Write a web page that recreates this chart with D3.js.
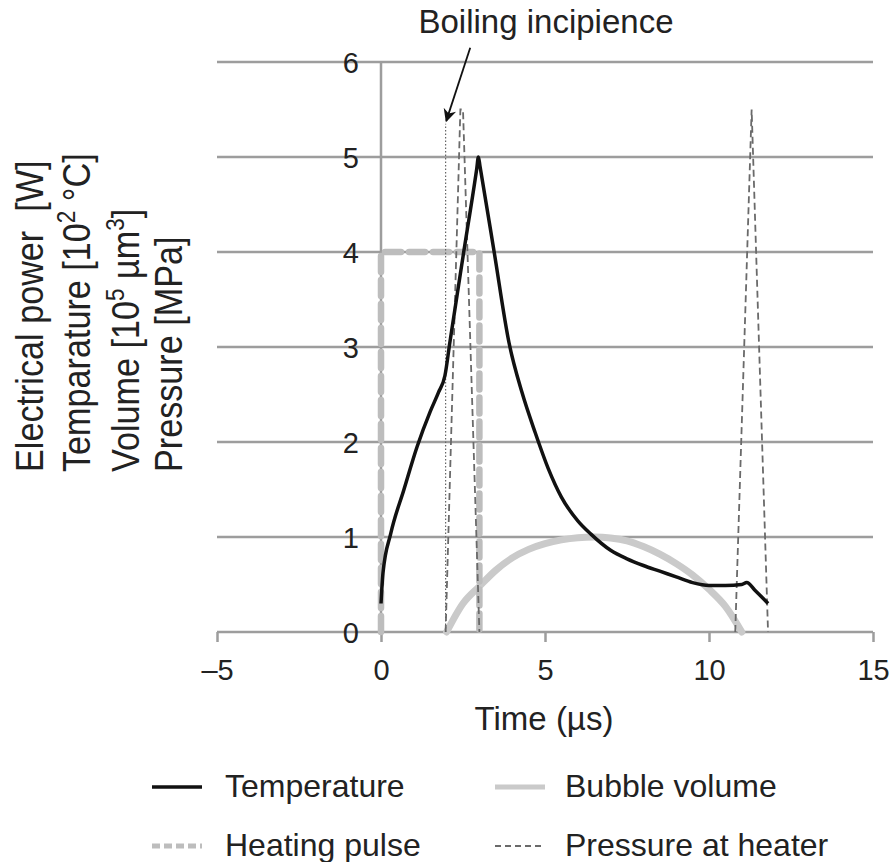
<!DOCTYPE html>
<html>
<head>
<meta charset="utf-8">
<script src="https://cdn.jsdelivr.net/npm/d3@7"></script>
<style>
  html, body { margin: 0; padding: 0; background: #fff; }
  svg { display: block; }
  text { font-family: "Liberation Sans", Arial, Helvetica, sans-serif; fill: #222; white-space: pre; }
</style>
</head>
<body>
<div id="chart"></div>
<script>
// ---------------- DATA ----------------
const xTicks = [-5, 0, 5, 10, 15];
const xTickLabels = ["\u20135", "0", "5", "10", "15"];
const yTicks = [0, 1, 2, 3, 4, 5, 6];
const yTickLabels = ["0", "1", "2", "3", "4", "5", "6"];

// Temperature [10^2 °C] vs time (µs)
const temperatureX = [0.0, 0.06, 0.3, 0.7, 1.1, 1.5, 1.75, 1.95, 2.1, 2.5, 2.92, 2.97, 3.02, 3.45, 3.9, 4.3, 4.7, 5.1, 5.5, 6.0, 6.4, 7.0, 7.5, 8.0, 8.5, 9.0, 9.5, 10.0, 10.5, 11.0, 11.15, 11.4, 11.8];
const temperatureY = [0.3, 0.62, 1.04, 1.5, 1.95, 2.32, 2.52, 2.7, 3.05, 3.95, 4.88, 5.0, 4.9, 4.0, 3.05, 2.52, 2.1, 1.72, 1.42, 1.17, 1.03, 0.86, 0.77, 0.7, 0.64, 0.58, 0.52, 0.49, 0.49, 0.5, 0.52, 0.44, 0.3];

// Bubble volume [10^5 µm^3]
const bubbleX = [2.0, 2.5, 3.0, 3.5, 4.0, 4.5, 5.0, 5.5, 6.0, 6.5, 7.0, 7.5, 8.0, 8.5, 9.0, 9.5, 10.0, 10.5, 11.0];
const bubbleY = [0.0, 0.3, 0.48, 0.65, 0.78, 0.87, 0.93, 0.97, 0.993, 1.0, 0.99, 0.96, 0.9, 0.82, 0.72, 0.6, 0.45, 0.27, 0.0];

// Heating pulse [W]
const pulseX = [0, 0, 3, 3];
const pulseY = [0, 4, 4, 0];

// Pressure at heater [MPa] (null = gap between the two spikes)
const pressureX = [1.97, 2.42, 2.5, 3.0, null, 10.8, 11.3, 11.3, 11.8];
const pressureY = [0, 5.5, 5.5, 0, null, 0, 5.5, 5.5, 0];

// Boiling incipience marker
const incipienceX = [1.97, 1.97];
const incipienceY = [0, 5.35];
const arrowFrom = [2.72, 6.15];
const arrowTo = [1.99, 5.38];

const legendItems = ["Temperature", "Bubble volume", "Heating pulse", "Pressure at heater"];

// ---------------- CHART ----------------
const W = 893, H = 862;
const svg = d3.select("#chart").append("svg").attr("width", W).attr("height", H);

const x = d3.scaleLinear().domain([-5, 15]).range([217, 873]);
const y = d3.scaleLinear().domain([0, 6]).range([632, 62]);

const gridColor = "#9d9d9d";

// horizontal gridlines
svg.append("g").selectAll("line").data(yTicks).join("line")
  .attr("x1", x(-5)).attr("x2", x(15))
  .attr("y1", d => y(d)).attr("y2", d => y(d))
  .attr("stroke", gridColor).attr("stroke-width", 2.5);

// vertical axis line at x = 0
svg.append("line")
  .attr("x1", x(0)).attr("x2", x(0)).attr("y1", y(0)).attr("y2", y(6))
  .attr("stroke", gridColor).attr("stroke-width", 2.5);

// x axis
const xAxis = d3.axisBottom(x).tickValues(xTicks).tickSize(10)
  .tickFormat((d, i) => xTickLabels[i]);
const gx = svg.append("g").attr("transform", `translate(0,${y(0)})`).call(xAxis);
gx.select(".domain").remove();
gx.selectAll(".tick line").attr("stroke", gridColor).attr("stroke-width", 2.5);
gx.selectAll(".tick text").attr("y", 48).attr("dy", 0)
  .attr("font-size", 29).attr("fill", "#222")
  .style("font-family", '"Liberation Sans", Arial, sans-serif');

// y tick labels
svg.append("g").selectAll("text").data(yTicks).join("text")
  .attr("x", x(0) - 22).attr("y", d => y(d) + 10.5)
  .attr("text-anchor", "end").attr("font-size", 29)
  .text((d, i) => yTickLabels[i]);

// x axis title
svg.append("text").attr("x", 544).attr("y", 730).attr("text-anchor", "middle")
  .attr("font-size", 33).text("Time (\u00b5s)");

// y axis title (four rotated lines)
const yTitle = [
  { x: 43, parts: [["Electrical power  [W]", 0]] },
  { x: 90, parts: [["Temparature [10", 0], ["2", 1], [" \u00b0C]", 0]] },
  { x: 139, parts: [["Volume [10", 0], ["5", 1], [" \u00b5m", 0], ["3", 1], ["]", 0]] },
  { x: 182, parts: [["Pressure [MPa]", 0]] }
];
yTitle.forEach(line => {
  const t = svg.append("text")
    .attr("transform", `translate(${line.x},472) rotate(-90) scale(0.9,1)`)
    .attr("font-size", 38).attr("text-anchor", "start");
  let up = false;
  line.parts.forEach(([s, sup]) => {
    const ts = t.append("tspan").text(s);
    if (sup && !up) { ts.attr("font-size", 25).attr("dy", -15); up = true; }
    else if (!sup && up) { ts.attr("dy", 15); up = false; }
    else if (sup && up) { ts.attr("font-size", 25); }
  });
});

// series
const zip = (xs, ys) => xs.map((v, i) => [v, ys[i]]);

// bubble volume
svg.append("path").datum(zip(bubbleX, bubbleY))
  .attr("d", d3.line().curve(d3.curveMonotoneX).x(d => x(d[0])).y(d => y(d[1])))
  .attr("fill", "none").attr("stroke", "#cacaca").attr("stroke-width", 7)
  .attr("stroke-linecap", "round");

// heating pulse
svg.append("path").datum(zip(pulseX, pulseY))
  .attr("d", d3.line().x(d => x(d[0])).y(d => y(d[1])))
  .attr("fill", "none").attr("stroke", "#bdbdbd").attr("stroke-width", 6.5)
  .attr("stroke-dasharray", "16,8").attr("stroke-linecap", "round");

// pressure at heater
svg.append("path").datum(zip(pressureX, pressureY))
  .attr("d", d3.line().defined(d => d[0] !== null).x(d => x(d[0])).y(d => y(d[1])))
  .attr("fill", "none").attr("stroke", "#6a6a6a").attr("stroke-width", 1.8)
  .attr("stroke-dasharray", "7,4");

// boiling incipience dotted line
svg.append("path").datum(zip(incipienceX, incipienceY))
  .attr("d", d3.line().x(d => x(d[0])).y(d => y(d[1])))
  .attr("fill", "none").attr("stroke", "#666").attr("stroke-width", 1.2)
  .attr("stroke-dasharray", "1.5,2");

// temperature
svg.append("path").datum(zip(temperatureX, temperatureY))
  .attr("d", d3.line().curve(d3.curveMonotoneX).x(d => x(d[0])).y(d => y(d[1])))
  .attr("fill", "none").attr("stroke", "#111").attr("stroke-width", 3.5)
  .attr("stroke-linejoin", "round");

// annotation arrow
svg.append("defs").append("marker")
  .attr("id", "arrowhead").attr("viewBox", "0 0 10 10")
  .attr("refX", 9).attr("refY", 5)
  .attr("markerWidth", 18).attr("markerHeight", 13)
  .attr("markerUnits", "userSpaceOnUse").attr("orient", "auto")
  .append("path").attr("d", "M0,0 L10,5 L0,10 L3,5 Z").attr("fill", "#111");
svg.append("line")
  .attr("x1", x(arrowFrom[0])).attr("y1", y(arrowFrom[1]))
  .attr("x2", x(arrowTo[0])).attr("y2", y(arrowTo[1]))
  .attr("stroke", "#111").attr("stroke-width", 1.8)
  .attr("marker-end", "url(#arrowhead)");

svg.append("text").attr("x", 546).attr("y", 33).attr("text-anchor", "middle")
  .attr("font-size", 33).text("Boiling incipience");

// legend
const legendPos = [
  { lx: 152, ly: 787, tx: 225 },
  { lx: 495, ly: 787, tx: 565 },
  { lx: 152, ly: 846, tx: 225 },
  { lx: 495, ly: 846, tx: 565 }
];
const legendStyles = [
  { stroke: "#111", width: 3.5, dash: null },
  { stroke: "#cacaca", width: 5, dash: null },
  { stroke: "#bdbdbd", width: 5, dash: "8,4" },
  { stroke: "#6a6a6a", width: 1.8, dash: "6,4" }
];
const lg = svg.append("g").selectAll("g").data(legendItems).join("g");
lg.append("line")
  .attr("x1", (d, i) => legendPos[i].lx).attr("x2", (d, i) => legendPos[i].lx + 50)
  .attr("y1", (d, i) => legendPos[i].ly).attr("y2", (d, i) => legendPos[i].ly)
  .attr("stroke", (d, i) => legendStyles[i].stroke)
  .attr("stroke-width", (d, i) => legendStyles[i].width)
  .attr("stroke-dasharray", (d, i) => legendStyles[i].dash);
lg.append("text")
  .attr("x", (d, i) => legendPos[i].tx).attr("y", (d, i) => legendPos[i].ly + 10)
  .attr("font-size", 32).text(d => d);
</script>
</body>
</html>
